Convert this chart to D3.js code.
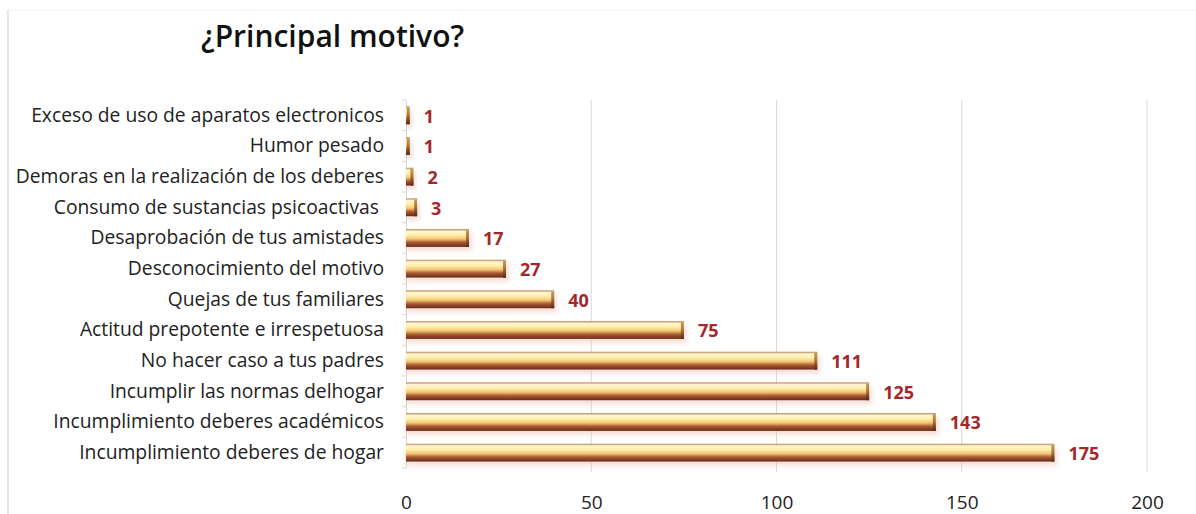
<!DOCTYPE html>
<head>
  <meta charset="utf-8">
  <script src="https://d3js.org/d3.v7.min.js"></script>
  <style>
    body { margin: 0; background: #fff; }
    text { font-family: "Open Sans", "Noto Sans", sans-serif; }
    .grid line { stroke: #d9d9d9; stroke-width: 1; }
  </style>
</head>
<body>
  <script>

  var categories = ["Exceso de uso de aparatos electronicos",
    "Humor pesado",
    "Demoras en la realización de los deberes",
    "Consumo de sustancias psicoactivas ",
    "Desaprobación de tus amistades",
    "Desconocimiento del motivo",
    "Quejas de tus familiares",
    "Actitud prepotente e irrespetuosa",
    "No hacer caso a tus padres",
    "Incumplir las normas delhogar",
    "Incumplimiento deberes académicos",
    "Incumplimiento deberes de hogar"];

  var values = [1, 1, 2, 3, 17, 27, 40, 75, 111, 125, 143, 175];

  var xTicks = [0, 50, 100, 150, 200];

  var width = 1196,
      height = 514;

  var x = d3.scaleLinear()
      .domain([0, 200])
      .range([406, 1147]);

  var y = d3.scaleBand()
      .domain(categories)
      .range([100, 468])
      .paddingInner(0.42)
      .paddingOuter(0.21);

  var svg = d3.select("body").append("svg")
      .attr("width", width)
      .attr("height", height);

  var defs = svg.append("defs");
  var grad = defs.append("linearGradient")
      .attr("id", "cyl")
      .attr("x1", 0).attr("y1", 0).attr("x2", 0).attr("y2", 1);
  [["0%", "#b9804c"], ["12%", "#fff6d6"], ["32%", "#fff0ae"], ["55%", "#f3c673"],
   ["75%", "#a65a32"], ["100%", "#6c2818"]].forEach(function(s) {
    grad.append("stop").attr("offset", s[0]).attr("stop-color", s[1]);
  });
  var cap = defs.append("linearGradient")
      .attr("id", "cap")
      .attr("x1", 0).attr("y1", 0).attr("x2", 0).attr("y2", 1);
  [["0%", "#c89a50"], ["40%", "#b07a3c"], ["100%", "#5a2414"]].forEach(function(s) {
    cap.append("stop").attr("offset", s[0]).attr("stop-color", s[1]);
  });
  var blur = defs.append("filter").attr("id", "shadow")
      .attr("x", "-5%").attr("y", "-50%").attr("width", "110%").attr("height", "200%");
  blur.append("feGaussianBlur").attr("stdDeviation", 2.5);

  // frame
  svg.append("line")
      .attr("x1", 8).attr("x2", 8).attr("y1", 10).attr("y2", height)
      .attr("stroke", "#cfcfcf");
  svg.append("line")
      .attr("x1", 8).attr("x2", width).attr("y1", 10).attr("y2", 10)
      .attr("stroke", "#f0f0f0");

  // title
  svg.append("text")
      .attr("x", 201)
      .attr("y", 47)
      .style("font-size", "30px")
      .style("font-weight", 600)
      .attr("fill", "#111")
      .text("¿Principal motivo?");

  // gridlines
  svg.append("g")
      .attr("class", "grid")
      .selectAll("line")
      .data(xTicks.slice(1))
      .enter().append("line")
      .attr("x1", function(d) { return x(d); })
      .attr("x2", function(d) { return x(d); })
      .attr("y1", 100)
      .attr("y2", 472);

  // x axis labels
  var xAxis = d3.axisBottom(x).tickValues(xTicks).tickSize(0).tickPadding(0);
  var gx = svg.append("g")
      .attr("transform", "translate(0,509)")
      .call(xAxis);
  gx.select(".domain").remove();
  gx.selectAll("text")
      .attr("dy", 0)
      .style("font-size", "19px")
      .attr("fill", "#222");

  // y axis
  var yAxis = d3.axisLeft(y).tickSize(0).tickPadding(22);
  var gy = svg.append("g")
      .attr("transform", "translate(" + x(0) + ",0)")
      .call(yAxis);
  gy.select(".domain").attr("stroke", "#d6d6d6");
  gy.selectAll(".tick text")
      .style("font-size", "19.3px")
      .attr("fill", "#222")
      .attr("xml:space", "preserve");

  // small axis ticks between categories
  svg.append("g")
      .selectAll("line")
      .data(d3.range(categories.length + 1))
      .enter().append("line")
      .attr("x1", x(0) - 4)
      .attr("x2", x(0))
      .attr("y1", function(i) { return 100 + i * (368 / categories.length); })
      .attr("y2", function(i) { return 100 + i * (368 / categories.length); })
      .attr("stroke", "#d6d6d6");

  // bar shadows
  svg.append("g")
      .selectAll("rect")
      .data(values)
      .enter().append("rect")
      .attr("x", x(0))
      .attr("y", function(d, i) { return y(categories[i]) + 4; })
      .attr("width", function(d) { return x(d) - x(0) + 3; })
      .attr("height", y.bandwidth())
      .attr("fill", "#e8b8a8")
      .attr("opacity", 0.45)
      .attr("filter", "url(#shadow)");

  // bars
  svg.append("g")
      .selectAll("rect")
      .data(values)
      .enter().append("rect")
      .attr("x", x(0))
      .attr("y", function(d, i) { return y(categories[i]); })
      .attr("width", function(d) { return Math.max(x(d) - x(0), 2.5); })
      .attr("height", y.bandwidth())
      .attr("fill", "url(#cyl)");

  // bar end caps
  svg.append("g")
      .selectAll("rect")
      .data(values)
      .enter().append("rect")
      .attr("x", function(d) { return Math.max(x(d) - 3, x(0)); })
      .attr("y", function(d, i) { return y(categories[i]) + 1; })
      .attr("width", function(d) { return Math.min(3, x(d) - x(0)); })
      .attr("height", y.bandwidth() - 1)
      .attr("fill", "url(#cap)");

  // value labels
  svg.append("g")
      .selectAll("text")
      .data(values)
      .enter().append("text")
      .attr("x", function(d) { return x(d) + 14; })
      .attr("y", function(d, i) { return y(categories[i]) + y.bandwidth() / 2 + 1; })
      .attr("dy", "0.35em")
      .style("font-size", "18px")
      .style("font-weight", 700)
      .attr("fill", "#a3282c")
      .text(function(d) { return d; });

  </script>
</body>
